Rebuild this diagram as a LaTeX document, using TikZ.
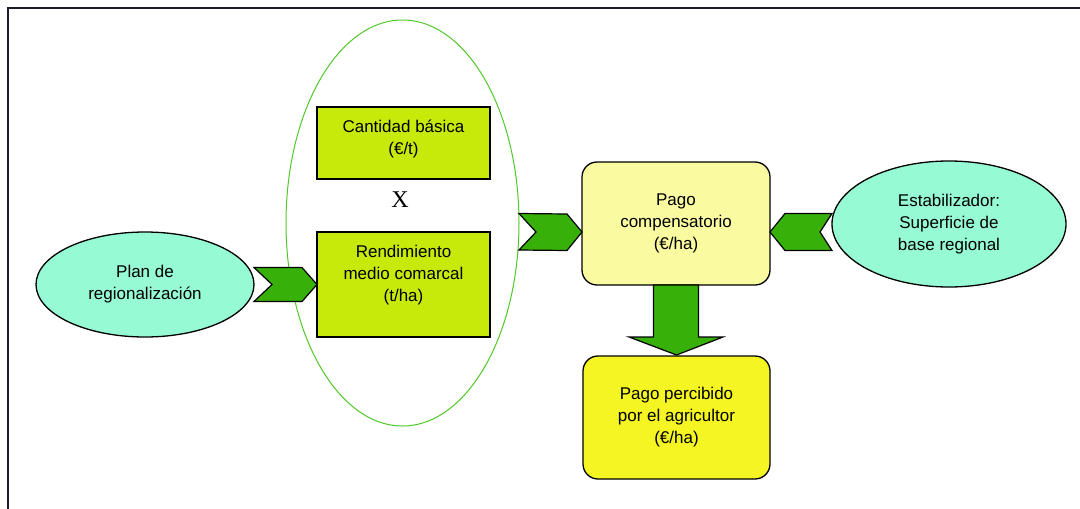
\documentclass[tikz,border=0pt]{standalone}
\usepackage{fontspec}
\setmainfont{Liberation Sans}
\newfontfamily\serifx{Liberation Serif}
\usetikzlibrary{shapes.geometric,calc}
\definecolor{arrowgreen}{RGB}{56,176,10}
\definecolor{boxgreen}{RGB}{200,234,10}
\definecolor{lightyel}{RGB}{250,250,160}
\definecolor{brightyel}{RGB}{245,245,35}
\definecolor{aqua}{RGB}{150,250,212}
\definecolor{ringgreen}{RGB}{80,200,40}
\definecolor{framecol}{RGB}{30,30,40}
\begin{document}
\begin{tikzpicture}[x=1pt,y=-1pt,
  every node/.style={inner sep=0pt,outer sep=0pt,font=\fontsize{17}{22}\selectfont,align=center},
  aquaell/.style={ellipse,draw=black,line width=1.3pt,fill=aqua},
  gbox/.style={rectangle,draw=black,line width=1.3pt,fill=boxgreen,minimum width=173pt},
  ybox/.style={rectangle,rounded corners=15pt,draw=black,line width=1.3pt,minimum width=188pt,minimum height=123pt},
  chev/.style={fill=arrowgreen,draw=black,line width=1.2pt,line join=miter},
  ring/.style={ellipse,draw=ringgreen,line width=1pt,minimum width=233pt,minimum height=406pt}]
\clip (0,0) rectangle (1080,509);
\fill[white] (0,0) rectangle (1080,509);
\draw[line width=2pt,framecol] (7.5,520) -- (7.5,7.5) -- (1090,7.5);

% big ring
\node[ring] (ring) at (402.5,223) {};

% nodes
\node[aquaell,minimum width=218pt,minimum height=105pt] (plan) at (145,284.5) {Plan de\\regionalización};
\node[gbox,minimum height=72pt] (cant) at (403.5,143) {};
\node at ([yshift=4pt]cant.center) {Cantidad básica\\(€/t)};
\node[font=\serifx\fontsize{24}{24}\selectfont] (xsym) at (400,200) {X};
\node[gbox,minimum height=105pt] (rend) at (403.5,284.5) {};
\node at ([yshift=9pt]rend.center) {Rendimiento\\medio comarcal\\(t/ha)};
\node[ybox,fill=lightyel] (pc) at (676,223.5) {Pago\\compensatorio\\(€/ha)};
\node[ybox,fill=brightyel,minimum width=187pt] (pp) at (676.5,417.5) {Pago percibido\\por el agricultor\\(€/ha)};
\node[aquaell,minimum width=234pt,minimum height=126pt] (est) at (949,224) {Estabilizador:\\Superficie de\\base regional};

% chevron 1: plan -> rend
\draw[chev] ([yshift=17pt]plan.east) -- ([xshift=-15pt,yshift=17pt]rend.west)
  -- (rend.west) -- ([xshift=-15pt,yshift=-17pt]rend.west)
  -- ([yshift=-17pt]plan.east) -- ([xshift=18pt]plan.east) -- cycle;

% chevron 2: ring -> pc
\draw[chev] ([yshift=9.5pt]ring.east) -- ([xshift=-15pt,yshift=9.5pt]pc.west)
  -- ([yshift=-8.5pt]pc.west) -- ([xshift=-15pt,yshift=-27pt]pc.west)
  -- ([yshift=-27pt]ring.east) -- ([xshift=17pt,yshift=-9pt]ring.east) -- cycle;

% chevron 3: est -> pc
\draw[chev] ([yshift=-8.5pt]pc.east) -- ([xshift=15pt,yshift=10pt]pc.east)
  -- ([yshift=10.5pt]est.west) -- ([xshift=-12pt,yshift=-8pt]est.west)
  -- ([yshift=-26.5pt]est.west) -- ([xshift=15pt,yshift=-27pt]pc.east) -- cycle;

% down arrow: pc -> pp
\draw[chev] ([xshift=-22.5pt]pc.south) -- ([xshift=-22.5pt,yshift=-52pt]pc.south)
  -- ([xshift=-47pt,yshift=-52pt]pc.south) -- ([yshift=1pt]pp.north)
  -- ([xshift=47pt,yshift=-52pt]pc.south) -- ([xshift=22.5pt,yshift=-52pt]pc.south)
  -- ([xshift=22.5pt]pc.south) -- cycle;
\end{tikzpicture}
\end{document}
